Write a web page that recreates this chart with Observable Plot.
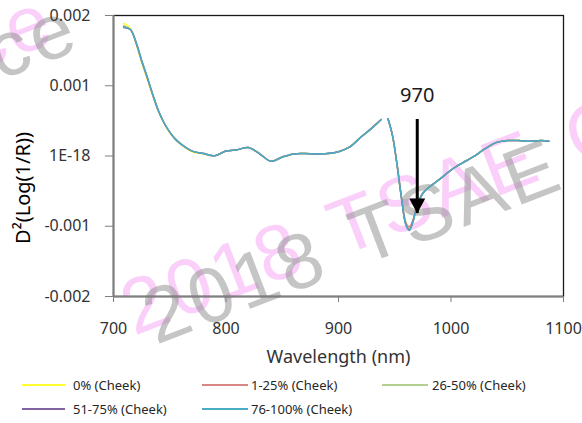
<!DOCTYPE html>
<html>
<head>
<meta charset="utf-8">
<script src="https://cdn.jsdelivr.net/npm/d3@7"></script>
<script src="https://cdn.jsdelivr.net/npm/@observablehq/plot@0.6"></script>
<style>
  html, body { margin: 0; padding: 0; background: #fff; }
  #wrap { position: relative; width: 582px; height: 423px; overflow: hidden; font-family: "Noto Sans", "Open Sans", sans-serif; background: #fff; }
  #chart { position: relative; z-index: 1; }
  #chart svg { display: block; }
  #legend { position: absolute; left: 0; top: 0; z-index: 1; }
  .leg { position: absolute; font-size: 13px; color: #262626; white-space: nowrap; line-height: 16px; }
  .leg .sw { position: absolute; top: 7px; height: 2px; }
  #wm { position: absolute; left: 0; top: 0; z-index: 0; pointer-events: none; }
</style>
</head>
<body>
<div id="wrap">
  <svg id="wm" width="582" height="423"></svg>
  <div id="chart"></div>
  <div id="legend"></div>
</div>
<script>
// ---- data ----
const wavelength = [709, 715, 720, 725, 730, 735, 740, 745, 750, 755, 760, 770, 780, 790, 800, 810, 820, 830, 840, 850, 860, 870, 880, 890, 900, 910, 920, 930, 938, 941, 944, 948, 952, 956, 960, 963, 966, 970, 975, 980, 990, 1000, 1010, 1020, 1030, 1040, 1050, 1060, 1070, 1080, 1087];

const s0 = [0.00189, 0.00182, 0.00160, 0.00133, 0.00109, 0.00085, 0.00063, 0.00046, 0.00033, 0.00023, 0.00016, 0.00006, 0.00003, 0.00000, 0.00007, 0.00009, 0.00012, 0.00003, -0.000075, -0.000015, 0.00003, 0.000035, 0.00003, 0.000035, 0.00006, 0.00013, 0.00027, 0.00040, 0.00052, null, 0.00053, 0.00029, -0.00012, -0.00059, -0.00096, -0.00103, -0.00093, -0.00070, -0.00053, -0.00045, -0.00033, -0.00020, -0.00010, -0.00001, 0.00010, 0.00019, 0.00022, 0.00022, 0.00021, 0.00022, 0.00021];
const s1 = [0.00185, 0.00180, 0.00161, 0.00135, 0.00111, 0.00086, 0.00064, 0.00047, 0.00034, 0.00024, 0.00017, 0.00007, 0.000035, 0.000005, 0.00007, 0.00009, 0.00012, 0.00003, -0.000075, -0.000015, 0.00003, 0.000035, 0.00003, 0.000035, 0.00006, 0.00013, 0.00027, 0.00041, 0.00052, null, 0.00053, 0.00029, -0.00012, -0.00059, -0.00095, -0.00101, -0.00092, -0.00069, -0.00053, -0.00045, -0.00033, -0.00020, -0.00010, -0.00001, 0.00010, 0.00019, 0.00022, 0.00022, 0.00021, 0.00022, 0.00021];
const s2 = [0.00184, 0.00180, 0.00162, 0.00136, 0.00112, 0.00087, 0.00064, 0.00047, 0.00034, 0.00024, 0.00017, 0.00007, 0.000035, 0.000005, 0.00007, 0.00009, 0.00012, 0.00003, -0.000075, -0.000015, 0.00003, 0.000035, 0.00003, 0.000035, 0.00006, 0.00013, 0.00027, 0.00040, 0.00052, null, 0.00053, 0.00029, -0.00012, -0.00060, -0.00097, -0.00104, -0.00094, -0.00070, -0.00053, -0.00045, -0.00033, -0.00020, -0.00010, -0.00001, 0.00010, 0.00019, 0.00022, 0.00022, 0.00021, 0.00022, 0.00021];
const s3 = [0.00183, 0.00180, 0.00162, 0.00136, 0.00112, 0.00087, 0.00064, 0.00047, 0.00034, 0.00024, 0.00017, 0.00007, 0.000035, 0.000005, 0.00007, 0.00009, 0.00012, 0.00003, -0.000075, -0.000015, 0.00003, 0.000035, 0.00003, 0.000035, 0.00006, 0.00013, 0.00027, 0.00040, 0.00052, null, 0.00053, 0.00029, -0.00012, -0.00060, -0.00098, -0.00105, -0.00094, -0.00070, -0.00053, -0.00045, -0.00033, -0.00020, -0.00010, -0.00001, 0.00010, 0.00019, 0.00022, 0.00022, 0.00021, 0.00022, 0.00021];
const s4 = [0.00184, 0.00180, 0.00162, 0.00136, 0.00112, 0.00087, 0.00064, 0.00047, 0.00034, 0.00024, 0.00017, 0.00007, 0.000035, 0.000005, 0.00007, 0.00009, 0.00012, 0.00003, -0.000075, -0.000015, 0.00003, 0.000035, 0.00003, 0.000035, 0.00006, 0.00013, 0.00027, 0.00040, 0.00052, null, 0.00053, 0.00029, -0.00012, -0.00060, -0.00099, -0.00106, -0.00095, -0.00071, -0.00053, -0.00045, -0.00033, -0.00020, -0.00010, -0.00001, 0.00010, 0.00019, 0.00022, 0.00022, 0.00021, 0.00022, 0.00021];

const seriesNames = ["0% (Cheek)", "1-25% (Cheek)", "26-50% (Cheek)", "51-75% (Cheek)", "76-100% (Cheek)"];
const seriesColors = ["#ffff33", "#d98585", "#b3d08c", "#8064a2", "#4bacc6"];
const seriesValues = [s0, s1, s2, s3, s4];

const xTicks = [700, 800, 900, 1000, 1100];
const yTicks = [-0.002, -0.001, 0, 0.001, 0.002];
const yTickLabels = ["-0.002", "-0.001", "1E-18", "0.001", "0.002"];
const xTitle = "Wavelength (nm)";
const yTitle = "D²(Log(1/R))";

// annotation
const annotX = [970];
const annotLabel = ["970"];
const annotLabelY = [0.000865];
const annotTop = [0.00052];
const annotTip = [-0.00082];

// ---- build table ----
const rows = [];
seriesValues.forEach((vals, i) => {
  vals.forEach((v, j) => rows.push({ wl: wavelength[j], v: v, series: seriesNames[i] }));
});
const annot = annotX.map((x, i) => ({ x, top: annotTop[i], tip: annotTip[i], ly: annotLabelY[i], label: annotLabel[i] }));

const downTriangle = {
  draw(context) {
    context.moveTo(0, 0);
    context.lineTo(-8, -15);
    context.lineTo(8, -15);
    context.closePath();
  }
};

const chart = Plot.plot({
  width: 582,
  height: 370,
  marginLeft: 113,
  marginRight: 19,
  marginTop: 15,
  marginBottom: 74,
  style: { fontFamily: "'Noto Sans', 'Open Sans', sans-serif", background: "transparent" },
  x: { domain: [700, 1100] },
  y: { domain: [-0.002, 0.002] },
  color: { domain: seriesNames, range: seriesColors },
  marks: [
    Plot.frame({ stroke: "#1a1a1a", strokeWidth: 1.3 }),
    Plot.ruleX([xTicks[0]], { stroke: "#7f7f7f", strokeWidth: 2 }),
    Plot.ruleY([yTicks[0]], { stroke: "#7f7f7f", strokeWidth: 2 }),
    Plot.axisX({ ticks: xTicks, tickSize: 6, tickPadding: 20, tickFormat: d => String(d), label: null, stroke: "#7f7f7f", fill: "#333", fontSize: 16 }),
    Plot.axisY({ ticks: yTicks, tickSize: 8, tickPadding: 15, tickFormat: d => yTickLabels[yTicks.indexOf(d)], label: null, stroke: "#7f7f7f", fill: "#333", fontSize: 16 }),
    Plot.line(rows, { x: "wl", y: "v", z: "series", stroke: "series", strokeWidth: 1.5, curve: "catmull-rom" }),
    Plot.ruleX(annot, { x: "x", y1: "top", y2: "tip", stroke: "#000", strokeWidth: 3 }),
    Plot.dot(annot, { x: "x", y: "tip", symbol: downTriangle, fill: "#000", stroke: "none", r: 8 }),
    Plot.text(annot, { x: "x", y: "ly", text: "label", fontSize: 20, fill: "#1a1a1a" }),
    Plot.text([xTitle], { frameAnchor: "bottom", dy: 61, text: d => d, fontSize: 18, fill: "#333", lineAnchor: "middle", textAnchor: "middle", letterSpacing: 0.6 }),
    Plot.text([yTitle], { frameAnchor: "left", textAnchor: "middle", lineAnchor: "middle", dx: -90, dy: 32, rotate: -90, text: d => d, fontSize: 20, fill: "#000" })
  ]
});
document.getElementById("chart").appendChild(chart);

// ---- legend ----
const legPos = [
  { lx: 22, lw: 43, tx: 73, y: 377 },
  { lx: 202, lw: 46, tx: 251, y: 377 },
  { lx: 382, lw: 46, tx: 432, y: 377 },
  { lx: 22, lw: 43, tx: 73, y: 401 },
  { lx: 202, lw: 46, tx: 251, y: 401 }
];
const legend = document.getElementById("legend");
seriesNames.forEach((name, i) => {
  const p = legPos[i];
  const line = document.createElement("div");
  line.className = "leg";
  line.style.left = p.lx + "px";
  line.style.top = p.y + "px";
  line.style.width = (p.tx - p.lx) + "px";
  line.style.height = "16px";
  const sw = document.createElement("div");
  sw.className = "sw";
  sw.style.left = "0px";
  sw.style.width = p.lw + "px";
  sw.style.background = seriesColors[i];
  line.appendChild(sw);
  legend.appendChild(line);
  const t = document.createElement("div");
  t.className = "leg";
  t.style.left = p.tx + "px";
  t.style.top = p.y + "px";
  t.textContent = name;
  legend.appendChild(t);
});

// ---- watermark (behind the chart) ----
const wmText = "2018 TSAE Conference";
const wm = d3.select("#wm");
const wmItems = [
  { x: 134, y: 336, fill: "rgba(240,100,240,0.3)", anchor: "start" },
  { x: 156, y: 345, fill: "rgba(140,140,140,0.5)", anchor: "start" },
  { x: 60, y: 40, fill: "rgba(240,100,240,0.3)", anchor: "end" },
  { x: 84, y: 48, fill: "rgba(140,140,140,0.5)", anchor: "end" }
];
wmItems.forEach(w => {
  wm.append("text")
    .attr("x", w.x).attr("y", w.y)
    .attr("transform", `rotate(-21 ${w.x} ${w.y})`)
    .attr("text-anchor", w.anchor)
    .attr("font-family", "'Liberation Sans', Arial, sans-serif")
    .attr("font-size", 78)
    .attr("letter-spacing", 4)
    .attr("word-spacing", 8)
    .attr("fill", w.fill)
    .text(wmText);
});
</script>
</body>
</html>
